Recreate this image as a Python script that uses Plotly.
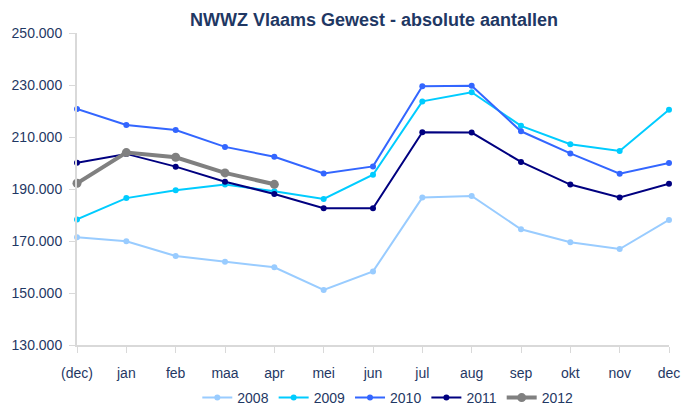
import plotly.graph_objects as go

months = ["(dec)", "jan", "feb", "maa", "apr", "mei", "jun", "jul", "aug", "sep", "okt", "nov", "dec"]

y2008 = [171400, 169900, 164200, 162000, 159900, 151200, 158300, 186700, 187300, 174500, 169500, 166900, 178100]
y2009 = [178300, 186500, 189500, 191700, 189100, 186200, 195500, 223700, 227200, 214300, 207200, 204600, 220500]
y2010 = [220800, 214600, 212700, 206200, 202400, 196000, 198700, 229500, 229700, 212200, 203700, 195900, 200000]
y2011 = [200100, 203500, 198600, 192800, 188100, 182600, 182600, 211800, 211700, 200400, 191700, 186700, 192000]
y2012 = [192200, 204000, 202200, 196200, 191800]

series = [
    ("2008", y2008, "#99CCFF", 2, 6),
    ("2009", y2009, "#00CCFF", 2, 6),
    ("2010", y2010, "#3366FF", 2, 6),
    ("2011", y2011, "#000080", 2, 6),
    ("2012", y2012, "#808080", 4, 9),
]

text_color = "#1F3864"
fig = go.Figure()
for name, vals, color, w, ms in series:
    fig.add_trace(go.Scatter(
        x=months[:len(vals)], y=vals, name=name, mode="lines+markers",
        line=dict(color=color, width=w),
        marker=dict(color=color, size=ms, symbol="circle"),
        cliponaxis=False,
    ))

fig.update_layout(
    width=691, height=406,
    margin=dict(l=77, r=22, t=33, b=61),
    paper_bgcolor="white", plot_bgcolor="white",
    separators=",.",
    font=dict(family="Liberation Sans, Arial, sans-serif", size=14, color=text_color),
    title=dict(text="<b>NWWZ Vlaams Gewest - absolute aantallen</b>",
               x=374 / 691, xanchor="center", y=1 - 20 / 406, yanchor="middle",
               font=dict(size=18, color=text_color)),
    showlegend=True,
    legend=dict(orientation="h", x=0.525, xanchor="center",
                yref="container", y=1 - 398 / 406, yanchor="middle",
                font=dict(size=14, color=text_color), itemwidth=30,
                bgcolor="rgba(0,0,0,0)"),
)
fig.update_xaxes(
    type="category", categoryorder="array", categoryarray=months,
    range=[0, 12], showgrid=False, showline=True, linecolor="#D9D9D9", linewidth=2,
    ticks="outside", ticklen=6, tickcolor="#D9D9D9", tickwidth=1, ticklabelstandoff=8,
    tickfont=dict(size=14, color=text_color), zeroline=False, automargin=False,
)
fig.update_yaxes(
    range=[130000, 250000], tick0=130000, dtick=20000, tickformat=",d",
    showgrid=False, showline=True, linecolor="#D9D9D9", linewidth=2,
    ticks="outside", ticklen=6, tickcolor="#D9D9D9", tickwidth=1, ticklabelstandoff=4,
    tickfont=dict(size=14, color=text_color), zeroline=False, automargin=False,
)

fig.write_html("out.html", config={"displayModeBar": False},
               post_script="document.body.style.margin='0';")
